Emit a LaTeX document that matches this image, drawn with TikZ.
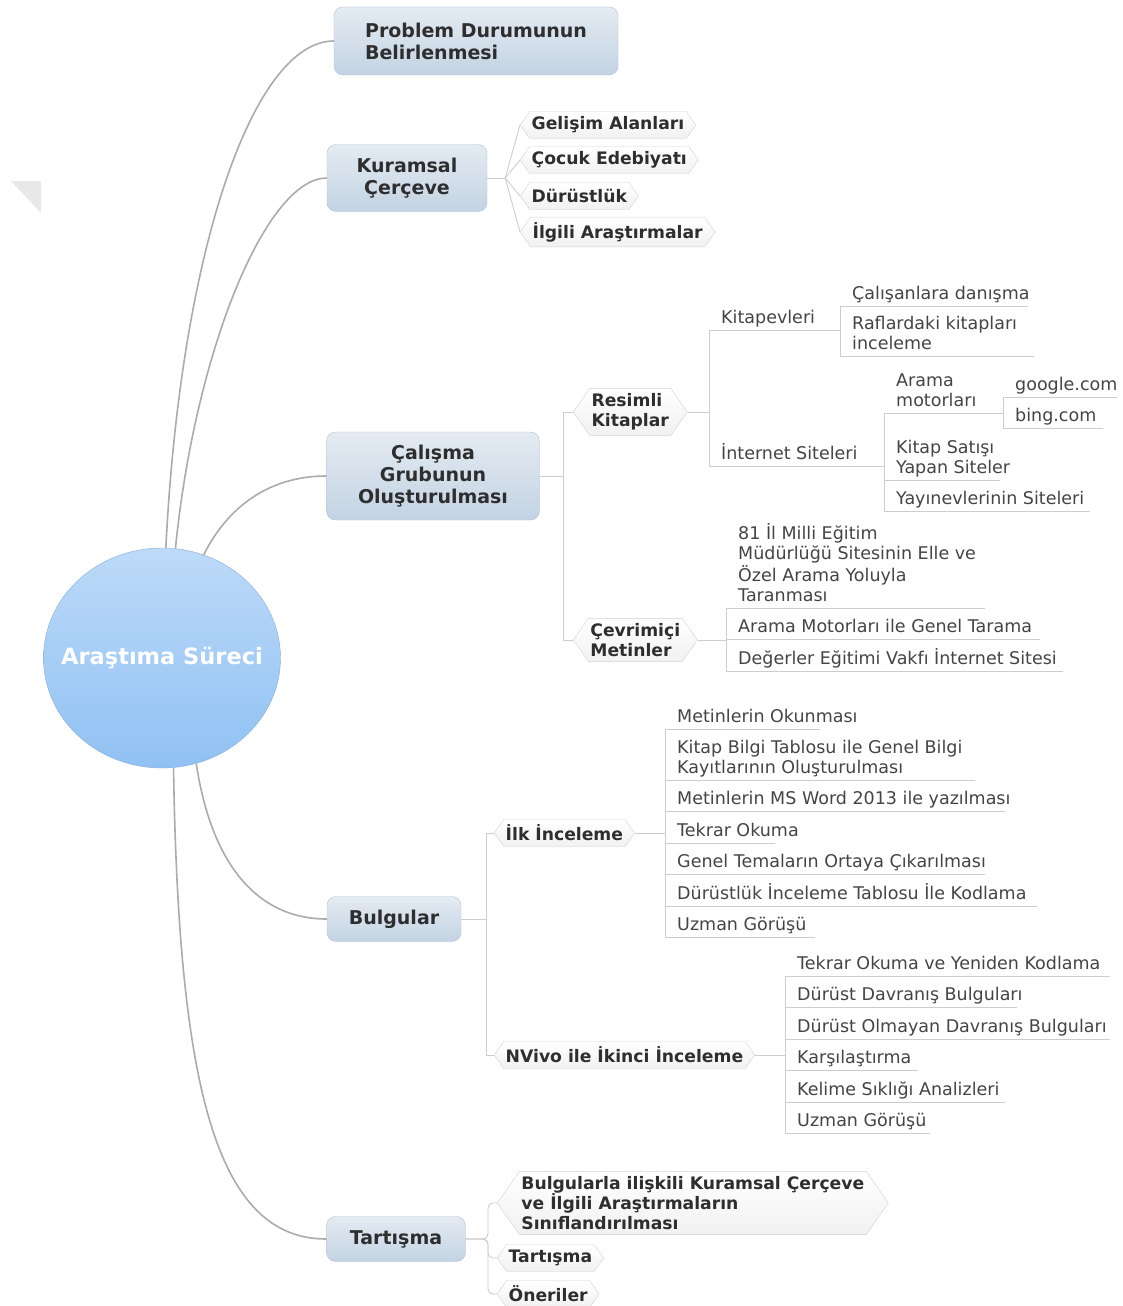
\documentclass[tikz,border=0pt]{standalone}
\usepackage{fontspec}
\setmainfont{DejaVu Sans}
\usepackage{xcolor}
\usetikzlibrary{shapes.geometric, shapes.symbols, positioning}

\definecolor{txt}{HTML}{2E2E2E}
\definecolor{leaftxt}{HTML}{444444}
\definecolor{linegray}{HTML}{CDCDCD}
\definecolor{trunkgray}{HTML}{ABABAB}
\definecolor{topictop}{HTML}{E4EBF2}
\definecolor{topicbot}{HTML}{C3D3E3}
\definecolor{topicline}{HTML}{B3C4D5}
\definecolor{hexline}{HTML}{D2D2D2}
\definecolor{hexbot}{HTML}{F1F1F1}
\definecolor{roottop}{HTML}{BDDAF8}
\definecolor{rootbot}{HTML}{90C1F3}
\definecolor{rootline}{HTML}{86AEDA}
\definecolor{tricol}{HTML}{E8E8E8}

\newcommand{\rtfont}{\fontsize{22.5}{27}\selectfont\bfseries}
\newcommand{\tpfont}{\fontsize{19}{22}\selectfont\bfseries}
\newcommand{\sbfont}{\fontsize{17.2}{20}\selectfont\bfseries}
\newcommand{\lffont}{\fontsize{17.5}{20}\selectfont}
\newcommand{\lns}[1]{\begin{tabular}[b]{@{}l@{}}#1\end{tabular}}

\tikzstyle{root} = [ellipse, minimum width=237, minimum height=220, inner sep=0pt,
                    draw=rootline, top color=roottop, bottom color=rootbot, text=white, font=\rtfont]
\tikzstyle{topic} = [rectangle, rounded corners=9pt, draw=topicline, top color=topictop,
                     bottom color=topicbot, text=txt, font=\tpfont, align=center]
\tikzstyle{subtopic} = [signal, signal to=west and east, signal pointer angle=110, draw=hexline,
                        top color=white, bottom color=hexbot, text=txt, font=\sbfont,
                        inner xsep=2pt, inner ysep=5pt, minimum height=27, anchor=west, align=left]
\tikzstyle{trunk} = [draw=trunkgray, line width=1.6pt]
\tikzstyle{branch} = [draw=linegray, line width=0.9pt]
\tikzset{leaf/.style={anchor=south west, font=\lffont, text=leaftxt, inner xsep=12pt,
                      inner ysep=2.5pt, text depth=4pt,
                      append after command={(\tikzlastnode.south west) edge[branch] ++(#1,0)}}}

\begin{document}
\begin{tikzpicture}[x=1pt, y=1pt, node distance=31.5pt]
\useasboundingbox (0,0) rectangle (1123,-1306);
\fill[tricol] (11,-181) -- (41,-181) -- (41,-213) -- cycle;

\node (root) [root] at (162,-658) {\makebox[0pt]{Araştıma Süreci}};

\node (prob) [topic, minimum width=284, minimum height=68, align=left] at (476,-41) {Problem Durumunun\\Belirlenmesi};
\node (kur) [topic, minimum width=160, minimum height=67] at (407,-178) {Kuramsal\\Çerçeve};
\node (calg) [topic, minimum width=213, minimum height=88] at (433,-476) {Çalışma\\Grubunun\\Oluşturulması};
\node (bulg) [topic, minimum width=134, minimum height=45] at (394,-919) {Bulgular};
\node (tart) [topic, minimum width=139, minimum height=45] at (396,-1239) {Tartışma};

\node (gel) [subtopic] at (520,-125) {Gelişim Alanları};
\node (coc) [subtopic, below=35pt of gel.west, anchor=west] {Çocuk Edebiyatı};
\node (dur) [subtopic, below=36pt of coc.west, anchor=west] {Dürüstlük};
\node (ilg) [subtopic, below=36pt of dur.west, anchor=west] {İlgili Araştırmalar};

\node (res) [subtopic] at (573,-412) {Resimli\\Kitaplar};
\node (cev) [subtopic] at (573,-640) {Çevrimiçi\\Metinler};

\node (kit) [leaf=131] at (709,-330) {Kitapevleri};
\node (inet) [leaf=175] at (709,-466) {İnternet Siteleri};
\node (calis) [leaf=188] at (840,-306) {Çalışanlara danışma};
\node (rafl) [leaf=194] at (840,-356) {\lns{Raflardaki kitapları\\inceleme}};
\node (arama) [leaf=119] at (884,-413) {\lns{Arama\\motorları}};
\node (satis) [leaf=116] at (884,-480) {\lns{Kitap Satışı\\Yapan Siteler}};
\node (yayin) [below=of satis.south west, leaf=206] {Yayınevlerinin Siteleri};
\node (google) [leaf=114] at (1003,-397) {google.com};
\node (bing) [below=of google.south west, leaf=100] {bing.com};

\node (meb) [leaf=259] at (726,-608) {\lns{81 İl Milli Eğitim\\Müdürlüğü Sitesinin Elle ve\\Özel Arama Yoluyla\\Taranması}};
\node (genel) [below=of meb.south west, leaf=314] {Arama Motorları ile Genel Tarama};
\node (dvak) [below=of genel.south west, leaf=337] {Değerler Eğitimi Vakfı İnternet Sitesi};

\node (ilk) [subtopic] at (494,-833) {İlk İnceleme};
\node (nviv) [subtopic] at (494,-1055) {NVivo ile İkinci İnceleme};

\node (i1) [leaf=155] at (665,-729) {Metinlerin Okunması};
\node (i2) [below=51pt of i1.south west, leaf=310] {\lns{Kitap Bilgi Tablosu ile Genel Bilgi\\Kayıtlarının Oluşturulması}};
\node (i3) [below=of i2.south west, leaf=340] {Metinlerin MS Word 2013 ile yazılması};
\node (i4) [below=of i3.south west, leaf=110] {Tekrar Okuma};
\node (i5) [below=of i4.south west, leaf=320] {Genel Temaların Ortaya Çıkarılması};
\node (i6) [below=of i5.south west, leaf=372] {Dürüstlük İnceleme Tablosu İle Kodlama};
\node (i7) [below=of i6.south west, leaf=150] {Uzman Görüşü};

\node (n1) [leaf=325] at (785,-976) {Tekrar Okuma ve Yeniden Kodlama};
\node (n2) [below=of n1.south west, leaf=232] {Dürüst Davranış Bulguları};
\node (n3) [below=of n2.south west, leaf=325] {Dürüst Olmayan Davranış Bulguları};
\node (n4) [below=of n3.south west, leaf=133] {Karşılaştırma};
\node (n5) [below=of n4.south west, leaf=220] {Kelime Sıklığı Analizleri};
\node (n6) [below=of n5.south west, leaf=145] {Uzman Görüşü};

\node (bta) [subtopic] at (497,-1203) {Bulgularla ilişkili Kuramsal Çerçeve\\ve İlgili Araştırmaların\\Sınıflandırılması};
\node (tt) [subtopic] at (497,-1258) {Tartışma};
\node (onr) [subtopic] at (497,-1294) {Öneriler};

\draw [trunk] (root.88) .. controls +(15,300) and +(-80,0) .. (prob.west);
\draw [trunk] (root.83) .. controls +(20,200) and +(-60,0) .. (kur.west);
\draw [trunk] (root.68) .. controls +(25,50) and +(-55,0) .. (calg.west);
\draw [trunk] (root.-72) .. controls +(15,-100) and +(-70,0) .. (bulg.west);
\draw [trunk] (root.-84) .. controls +(5,-320) and +(-110,0) .. (tart.west);

\draw [branch] (kur.east) -- ++(18,0) coordinate (kf);
\foreach \n in {gel,coc,dur,ilg}
  \draw [branch] (kf) -- (\n.west);

\draw [branch] (res.west) -- ++(-10,0) |- (calg.east);
\draw [branch] (cev.west) -- ++(-10,0) |- (calg.east);
\draw [branch] (res.east) -- (res.east -| kit.south west);
\draw [branch] (kit.south west) -- (inet.south west);
\draw [branch] (calis.south west) -- (rafl.south west);
\draw [branch] (arama.south west) -- (yayin.south west);
\draw [branch] (google.south west) -- (bing.south west);
\draw [branch] (cev.east) -- (cev.east -| meb.south west);
\draw [branch] (meb.south west) -- (dvak.south west);

\draw [branch] (ilk.west) -- ++(-8,0) |- (bulg.east);
\draw [branch] (nviv.west) -- ++(-8,0) |- (bulg.east);
\draw [branch] (ilk.east) -- (ilk.east -| i1.south west);
\draw [branch] (i1.south west) -- (i7.south west);
\draw [branch] (nviv.east) -- (nviv.east -| n1.south west);
\draw [branch] (n1.south west) -- (n6.south west);

\draw [branch, rounded corners=5pt] (bta.west) -- ++(-9,0) |- (tart.east);
\draw [branch, rounded corners=5pt] (tt.west) -- ++(-9,0) |- (tart.east);
\draw [branch, rounded corners=5pt] (onr.west) -- ++(-9,0) |- (tart.east);

\end{tikzpicture}
\end{document}
